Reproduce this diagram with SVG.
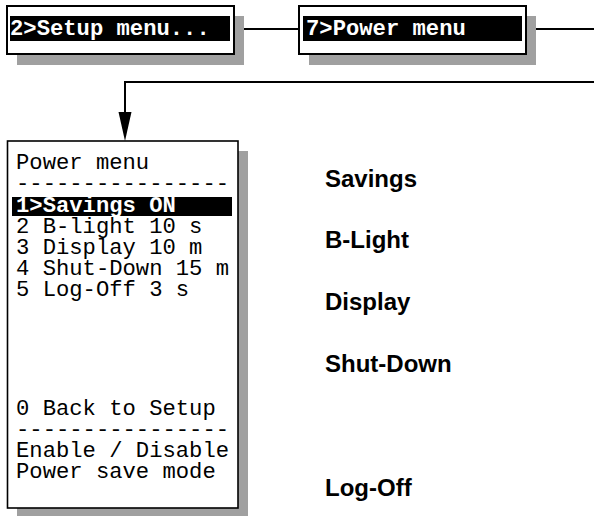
<svg xmlns="http://www.w3.org/2000/svg" width="594" height="516" viewBox="0 0 594 516">
<style>
.shadow{fill:#a0a0a0}
.box{fill:#fff;stroke:#000;stroke-width:2}
.hl{fill:#000}
.mono{font-family:"Liberation Mono","Courier New",monospace;font-size:22.2px;fill:#000;white-space:pre}
.monob{font-family:"Liberation Mono","Courier New",monospace;font-size:22.2px;font-weight:bold;fill:#fff;white-space:pre}
.lbl{font-family:"Liberation Sans",Arial,sans-serif;font-size:24px;font-weight:bold;fill:#000}
.wire{fill:none;stroke:#000;stroke-width:2}
</style>
<g id="connectors">
<path class="wire" d="M234,29 L299,29"/>
<path class="wire" d="M526,29 L594,29"/>
<path class="wire" d="M594,82 L125,82 L125,112"/>
<path d="M118.5,112 L131.5,112 L125,141 Z" fill="#000"/>
</g>
<g id="setup-menu">
<rect class="shadow" x="17" y="16" width="227" height="49"/>
<rect class="box" x="7" y="6" width="227" height="48"/>
<rect class="hl" x="10" y="16" width="220" height="25"/>
<text class="monob" x="10" y="35">2&gt;Setup menu...</text>
</g>
<g id="power-menu-item">
<rect class="shadow" x="309" y="16" width="227" height="49"/>
<rect class="box" x="299" y="6" width="227" height="48"/>
<rect class="hl" x="303" y="16" width="219" height="25"/>
<text class="monob" x="306" y="35">7&gt;Power menu</text>
</g>
<g id="power-menu-screen">
<rect class="shadow" x="17" y="151" width="231" height="367"/>
<rect class="box" x="7.5" y="141" width="230.5" height="367" style="stroke-width:1.6"/>
<rect class="hl" x="12" y="197" width="220" height="19"/>
<text class="mono" x="16" y="169">Power menu</text>
<text class="mono" x="16" y="190">----------------</text>
<text class="monob" x="16" y="212">1&gt;Savings ON</text>
<text class="mono" x="16" y="233">2 B-light 10 s</text>
<text class="mono" x="16" y="254">3 Display 10 m</text>
<text class="mono" x="16" y="275">4 Shut-Down 15 m</text>
<text class="mono" x="16" y="296">5 Log-Off 3 s</text>
<text class="mono" x="16" y="415">0 Back to Setup</text>
<text class="mono" x="16" y="436">----------------</text>
<text class="mono" x="16" y="457">Enable / Disable</text>
<text class="mono" x="16" y="478">Power save mode</text>
</g>
<g id="labels">
<text class="lbl" x="325" y="187">Savings</text>
<text class="lbl" x="325" y="248">B-Light</text>
<text class="lbl" x="325" y="310">Display</text>
<text class="lbl" x="325" y="372">Shut-Down</text>
<text class="lbl" x="325" y="496">Log-Off</text>
</g>
</svg>
